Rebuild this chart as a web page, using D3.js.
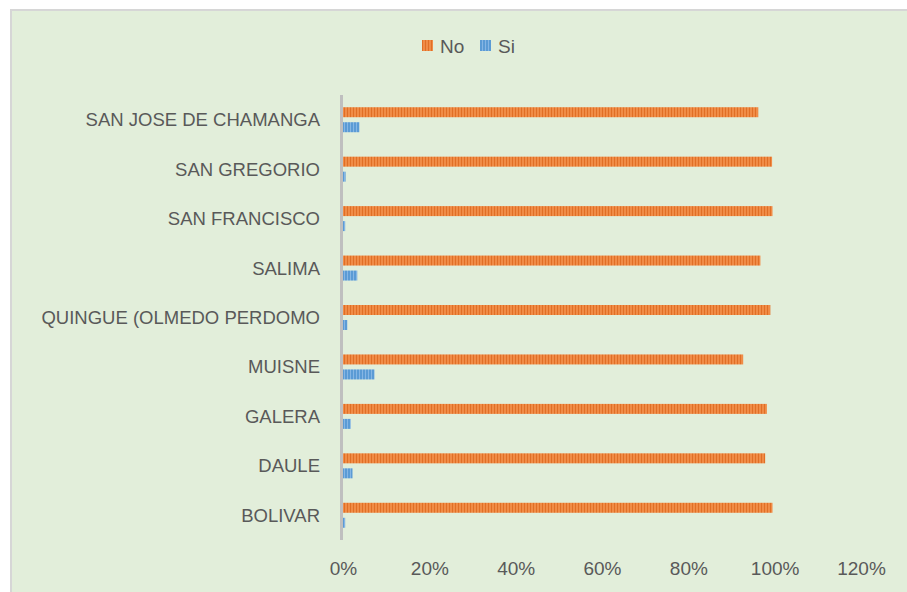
<!DOCTYPE html>
<html>
<head>
<meta charset="utf-8">
<script src="https://cdn.jsdelivr.net/npm/d3@7"></script>
<style>
html,body{margin:0;padding:0;background:#fff;}
svg{display:block;font-family:"Liberation Sans","Open Sans",Arial,sans-serif;}
</style>
</head>
<body>
<svg id="chart" width="907" height="592"></svg>
<script>
const categories = ["SAN JOSE DE CHAMANGA","SAN GREGORIO","SAN FRANCISCO","SALIMA","QUINGUE (OLMEDO PERDOMO","MUISNE","GALERA","DAULE","BOLIVAR"];
const seriesNames = ["No","Si"];
const noValues = [0.962, 0.994, 0.995, 0.967, 0.990, 0.927, 0.982, 0.978, 0.995];
const siValues = [0.038, 0.006, 0.005, 0.033, 0.010, 0.073, 0.018, 0.022, 0.005];
const xTicks = [0, 0.2, 0.4, 0.6, 0.8, 1.0, 1.2];

const colors = {No:{base:"#F08C47", line:"#E06F26"}, Si:{base:"#5B9BD5", line:"#86B6E4"}};

const svg = d3.select("#chart");
const W = 907, H = 592;

// background
svg.append("rect").attr("x",11).attr("y",10).attr("width",W+20).attr("height",H+20)
  .attr("fill","#E2EEDA").attr("stroke","#D6D6D6").attr("stroke-width",2);

// patterns
const defs = svg.append("defs");
seriesNames.forEach(s=>{
  const p = defs.append("pattern").attr("id","pat"+s).attr("patternUnits","userSpaceOnUse")
    .attr("width",3).attr("height",3);
  p.append("rect").attr("width",3).attr("height",3).attr("fill",colors[s].base);
  p.append("rect").attr("x",2).attr("width",1).attr("height",3).attr("fill",colors[s].line);
});

const x = d3.scaleLinear().domain([0,1.2]).range([343,861]);
const y = d3.scaleBand().domain(categories).range([95,540]);
const inner = d3.scaleBand().domain(seriesNames).range([-12.5,12.5]).paddingInner(0.333);

const data = categories.map((c,i)=>({cat:c, No:noValues[i], Si:siValues[i]}));

const textColor = "#595959";
const fs = 18.5;

// category labels
svg.append("g").selectAll("text").data(categories).join("text")
  .attr("x",320).attr("y",d=>y(d)+y.bandwidth()/2).attr("dy","0.35em")
  .attr("text-anchor","end").attr("fill",textColor).attr("font-size",fs)
  .text(d=>d);

// bars
const g = svg.append("g");
data.forEach(d=>{
  seriesNames.forEach(s=>{
    const cy = y(d.cat)+y.bandwidth()/2;
    g.append("rect")
      .attr("x",x(0)).attr("y",cy+inner(s))
      .attr("width",Math.max(1.5,x(d[s])-x(0))).attr("height",inner.bandwidth())
      .attr("fill","url(#pat"+s+")");
  });
});

// vertical axis line
svg.append("line").attr("x1",x(0)-1.5).attr("x2",x(0)-1.5).attr("y1",95).attr("y2",540)
  .attr("stroke","#BFBFBF").attr("stroke-width",3);

// x axis tick labels
const xAxis = d3.axisBottom(x).tickValues(xTicks).tickFormat(d3.format(".0%")).tickSize(0).tickPadding(0);
const ax = svg.append("g").attr("transform","translate(0,561)").call(xAxis);
ax.select(".domain").remove();
ax.selectAll("text").attr("fill",textColor).attr("font-size",19)
  .attr("font-family","Liberation Sans, Open Sans, Arial, sans-serif");

// legend
const leg = svg.append("g");
const legItems = [{s:"No",x:422},{s:"Si",x:480}];
legItems.forEach(it=>{
  leg.append("rect").attr("x",it.x).attr("y",40).attr("width",11).attr("height",11)
    .attr("fill","url(#pat"+it.s+")");
  leg.append("text").attr("x",it.x+18).attr("y",46).attr("dy","0.35em")
    .attr("fill",textColor).attr("font-size",19).text(it.s);
});
</script>
</body>
</html>
